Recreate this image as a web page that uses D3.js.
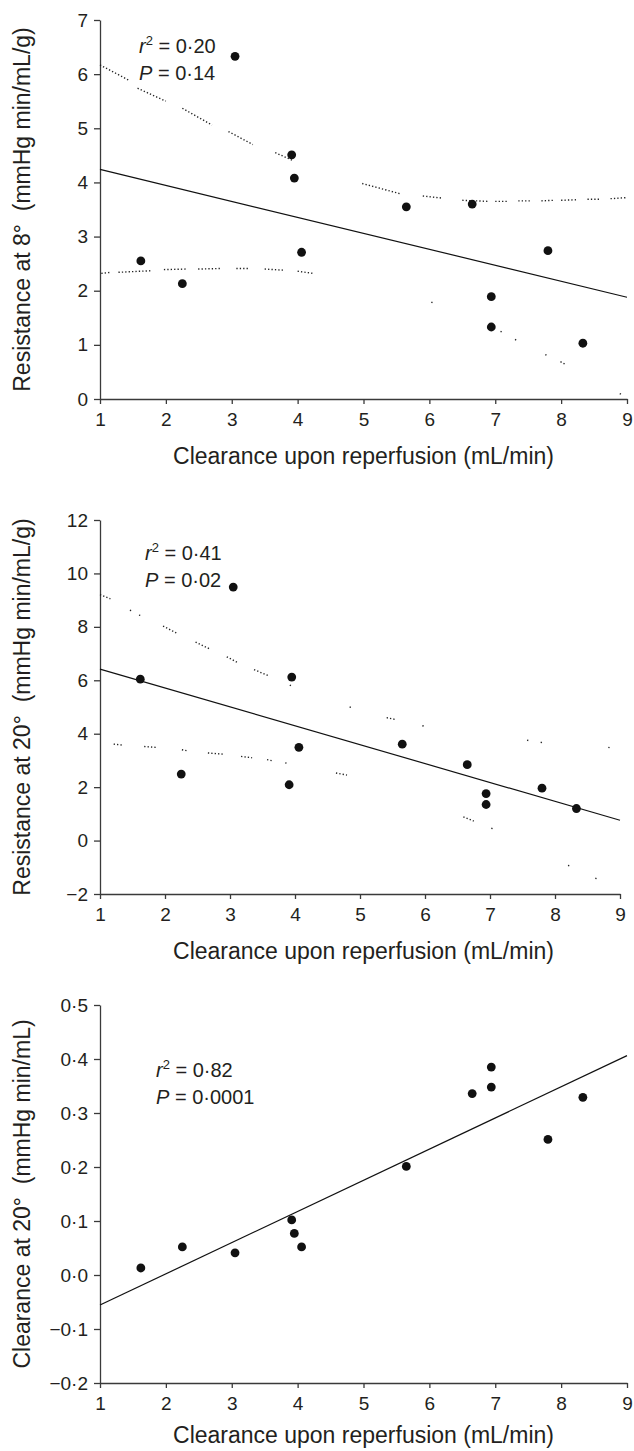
<!DOCTYPE html>
<html>
<head>
<meta charset="utf-8">
<script src="https://cdn.jsdelivr.net/npm/d3@7"></script>
<style>
  body { margin: 0; background: #fff; }
  text { font-family: "Liberation Sans", Arial, sans-serif; fill: #231f20; }
</style>
</head>
<body>
<div id="chart"></div>
<script>
// Clearance upon reperfusion (mL/min), same subjects in all three panels
const clearanceX = [1.62, 2.25, 3.05, 3.91, 3.95, 4.06, 5.65, 6.65, 6.94, 6.94, 7.80, 8.33];

// Panel values
const resist8 = [2.55, 2.13, 6.33, 4.51, 4.08, 2.71, 3.55, 3.60, 1.89, 1.33, 2.74, 1.03];
const resist20 = [6.04, 2.49, 9.49, 2.09, 6.12, 3.49, 3.61, 2.84, 1.76, 1.35, 1.96, 1.20];
const clear20 = [0.013, 0.052, 0.041, 0.102, 0.077, 0.052, 0.201, 0.336, 0.385, 0.348, 0.251, 0.329];

// Regression line end points [x, y]
const fit8 = [[1, 4.24], [9, 1.88]];
const fit20 = [[1, 6.42], [9, 0.76]];
const fitClear = [[1, -0.0556], [9, 0.4063]];

// Dotted confidence bands (broken segments as printed)
const band8Upper = [
  [[1.0, 6.17], [1.45, 5.88]], [[1.57, 5.74], [2.0, 5.5]], [[2.25, 5.37], [2.7, 5.06]],
  [[2.95, 4.94], [3.32, 4.7]], [[3.66, 4.55], [3.92, 4.41]], [[4.98, 3.98], [5.56, 3.79]],
  [[5.9, 3.75], [6.2, 3.71]], [[6.5, 3.67], [6.9, 3.65]], [[7.0, 3.65], [7.2, 3.65]],
  [[7.35, 3.66], [7.55, 3.66]], [[7.7, 3.66], [7.9, 3.67]], [[8.0, 3.67], [8.25, 3.68]],
  [[8.4, 3.69], [8.6, 3.69]], [[8.75, 3.7], [9.0, 3.72]]
];
const band8Lower = [
  [[1.02, 2.32], [1.17, 2.34]], [[1.28, 2.34], [1.79, 2.37]], [[1.97, 2.39], [2.31, 2.40]],
  [[2.49, 2.40], [2.83, 2.41]], [[3.07, 2.41], [3.26, 2.41]], [[3.5, 2.40], [3.78, 2.38]],
  [[4.0, 2.36], [4.24, 2.32]], [[6.03, 1.79], [6.06, 1.77]], [[7.08, 1.25], [7.11, 1.23]],
  [[7.3, 1.10], [7.33, 1.08]], [[7.76, 0.82], [7.79, 0.80]], [[7.99, 0.69], [8.08, 0.63]],
  [[8.89, 0.10], [8.92, 0.08]]
];
const band20Upper = [
  [[1.0, 9.21], [1.16, 9.05]], [[1.46, 8.62], [1.49, 8.6]], [[1.6, 8.44], [1.63, 8.42]],
  [[1.97, 8.03], [2.2, 7.74]], [[2.47, 7.43], [2.7, 7.16]], [[2.95, 6.88], [3.12, 6.66]],
  [[3.37, 6.40], [3.6, 6.16]], [[3.92, 5.82], [3.95, 5.78]], [[4.84, 5.0], [4.87, 4.98]],
  [[5.41, 4.6], [5.55, 4.53]], [[5.96, 4.3], [5.99, 4.28]], [[7.57, 3.76], [7.6, 3.74]],
  [[7.78, 3.68], [7.81, 3.66]], [[8.82, 3.49], [8.85, 3.47]]
];
const band20Lower = [
  [[1.21, 3.61], [1.36, 3.57]], [[1.68, 3.52], [1.86, 3.49]], [[2.26, 3.40], [2.34, 3.36]],
  [[2.66, 3.28], [2.91, 3.23]], [[3.17, 3.15], [3.34, 3.10]], [[3.57, 3.03], [3.67, 2.98]],
  [[3.85, 2.91], [3.88, 2.89]], [[4.63, 2.53], [4.8, 2.45]], [[6.59, 0.89], [6.75, 0.73]],
  [[7.02, 0.46], [7.05, 0.44]], [[8.2, -0.93], [8.23, -0.95]], [[8.62, -1.41], [8.65, -1.43]]
];

const xTicks = [1, 2, 3, 4, 5, 6, 7, 8, 9];
const yTicks8 = [0, 1, 2, 3, 4, 5, 6, 7];
const yTicks20 = [-2, 0, 2, 4, 6, 8, 10, 12];
const yTicksClear = [-0.2, -0.1, 0, 0.1, 0.2, 0.3, 0.4, 0.5];

const xTitle = "Clearance upon reperfusion (mL/min)";

const W = 634, H = 1451;
const svg = d3.select("#chart").append("svg").attr("width", W).attr("height", H);

const fmtInt = d => d < 0 ? "\u2212" + Math.abs(d) : String(d);
const fmtDot = d => (d < 0 ? "\u2212" : "") + Math.abs(d).toFixed(1).replace(".", "\u00b7");

function drawPanel(p) {
  const x = d3.scaleLinear().domain([1, 9]).range([p.left, p.right]);
  const y = d3.scaleLinear().domain(p.yDomain).range([p.bottom, p.top]);
  const g = svg.append("g");

  // axes
  const xAxis = g.append("g")
    .attr("transform", `translate(0,${p.bottom})`)
    .call(d3.axisBottom(x).tickValues(xTicks).tickSize(5).tickPadding(9).tickSizeOuter(0));
  const yAxis = g.append("g")
    .attr("transform", `translate(${p.left},0)`)
    .call(d3.axisLeft(y).tickValues(p.yTicks).tickFormat(p.fmt).tickSize(6).tickPadding(6).tickSizeOuter(0));
  [xAxis, yAxis].forEach(a => {
    a.select(".domain").attr("stroke", "#3a3a3a").attr("stroke-width", 1.3);
    a.selectAll(".tick line").attr("stroke", "#3a3a3a").attr("stroke-width", 1.3);
    a.selectAll(".tick text").style("font-size", "19px").attr("fill", "#231f20")
      .style("font-family", "'Liberation Sans', Arial, sans-serif");
  });

  // dotted bands
  const line = d3.line().x(d => x(d[0])).y(d => y(d[1]));
  (p.bands || []).forEach(band => {
    g.selectAll(null)
      .data(band)
      .enter()
      .append("path")
      .attr("d", line)
      .attr("fill", "none")
      .attr("stroke", "#222")
      .attr("stroke-width", 1.4)
      .attr("stroke-dasharray", "1.3,2.1");
  });

  // regression line
  g.append("path")
    .attr("d", line(p.fit))
    .attr("fill", "none")
    .attr("stroke", "#111")
    .attr("stroke-width", 1.2);

  // points
  g.selectAll("circle")
    .data(clearanceX.map((v, i) => [v, p.values[i]]))
    .enter()
    .append("circle")
    .attr("cx", d => x(d[0]))
    .attr("cy", d => y(d[1]))
    .attr("r", 4.4)
    .attr("fill", "#111");

  // stats text
  const s1 = g.append("text").attr("x", p.statX).attr("y", p.statY).style("font-size", "20px");
  s1.append("tspan").style("font-style", "italic").text("r");
  s1.append("tspan").attr("dy", -8).style("font-size", "13px").text("2");
  s1.append("tspan").attr("dy", 8).text(" = " + p.r2);
  const s2 = g.append("text").attr("x", p.statX).attr("y", p.statY + 27).style("font-size", "20px");
  s2.append("tspan").style("font-style", "italic").text("P");
  s2.append("tspan").text(" = " + p.pval);

  // axis titles
  g.append("text")
    .attr("x", (p.left + 627) / 2)
    .attr("y", p.bottom + p.titleGap)
    .attr("text-anchor", "middle")
    .style("font-size", "23px")
    .text(xTitle);
  g.append("text")
    .attr("transform", `translate(30,${(p.top + p.bottom) / 2}) rotate(-90)`)
    .attr("text-anchor", "middle")
    .style("font-size", "23px")
    .style("white-space", "pre")
    .text(p.yTitle);
}

drawPanel({
  left: 100, right: 627, top: 20, bottom: 399, titleGap: 65,
  yDomain: [0, 7], yTicks: yTicks8, fmt: fmtInt,
  values: resist8, fit: fit8, bands: [band8Upper, band8Lower],
  statX: 139, statY: 53, r2: "0\u00b720", pval: "0\u00b714",
  yTitle: "Resistance at 8\u00b0  (mmHg min/mL/g)"
});

drawPanel({
  left: 100, right: 620, top: 520, bottom: 894, titleGap: 65,
  yDomain: [-2, 12], yTicks: yTicks20, fmt: fmtInt,
  values: resist20, fit: fit20, bands: [band20Upper, band20Lower],
  statX: 145, statY: 560, r2: "0\u00b741", pval: "0\u00b702",
  yTitle: "Resistance at 20\u00b0  (mmHg min/mL/g)"
});

drawPanel({
  left: 100, right: 627, top: 1005, bottom: 1383, titleGap: 60,
  yDomain: [-0.2, 0.5], yTicks: yTicksClear, fmt: fmtDot,
  values: clear20, fit: fitClear, bands: [],
  statX: 156, statY: 1077, r2: "0\u00b782", pval: "0\u00b70001",
  yTitle: "Clearance at 20\u00b0  (mmHg min/mL)"
});
</script>
</body>
</html>
